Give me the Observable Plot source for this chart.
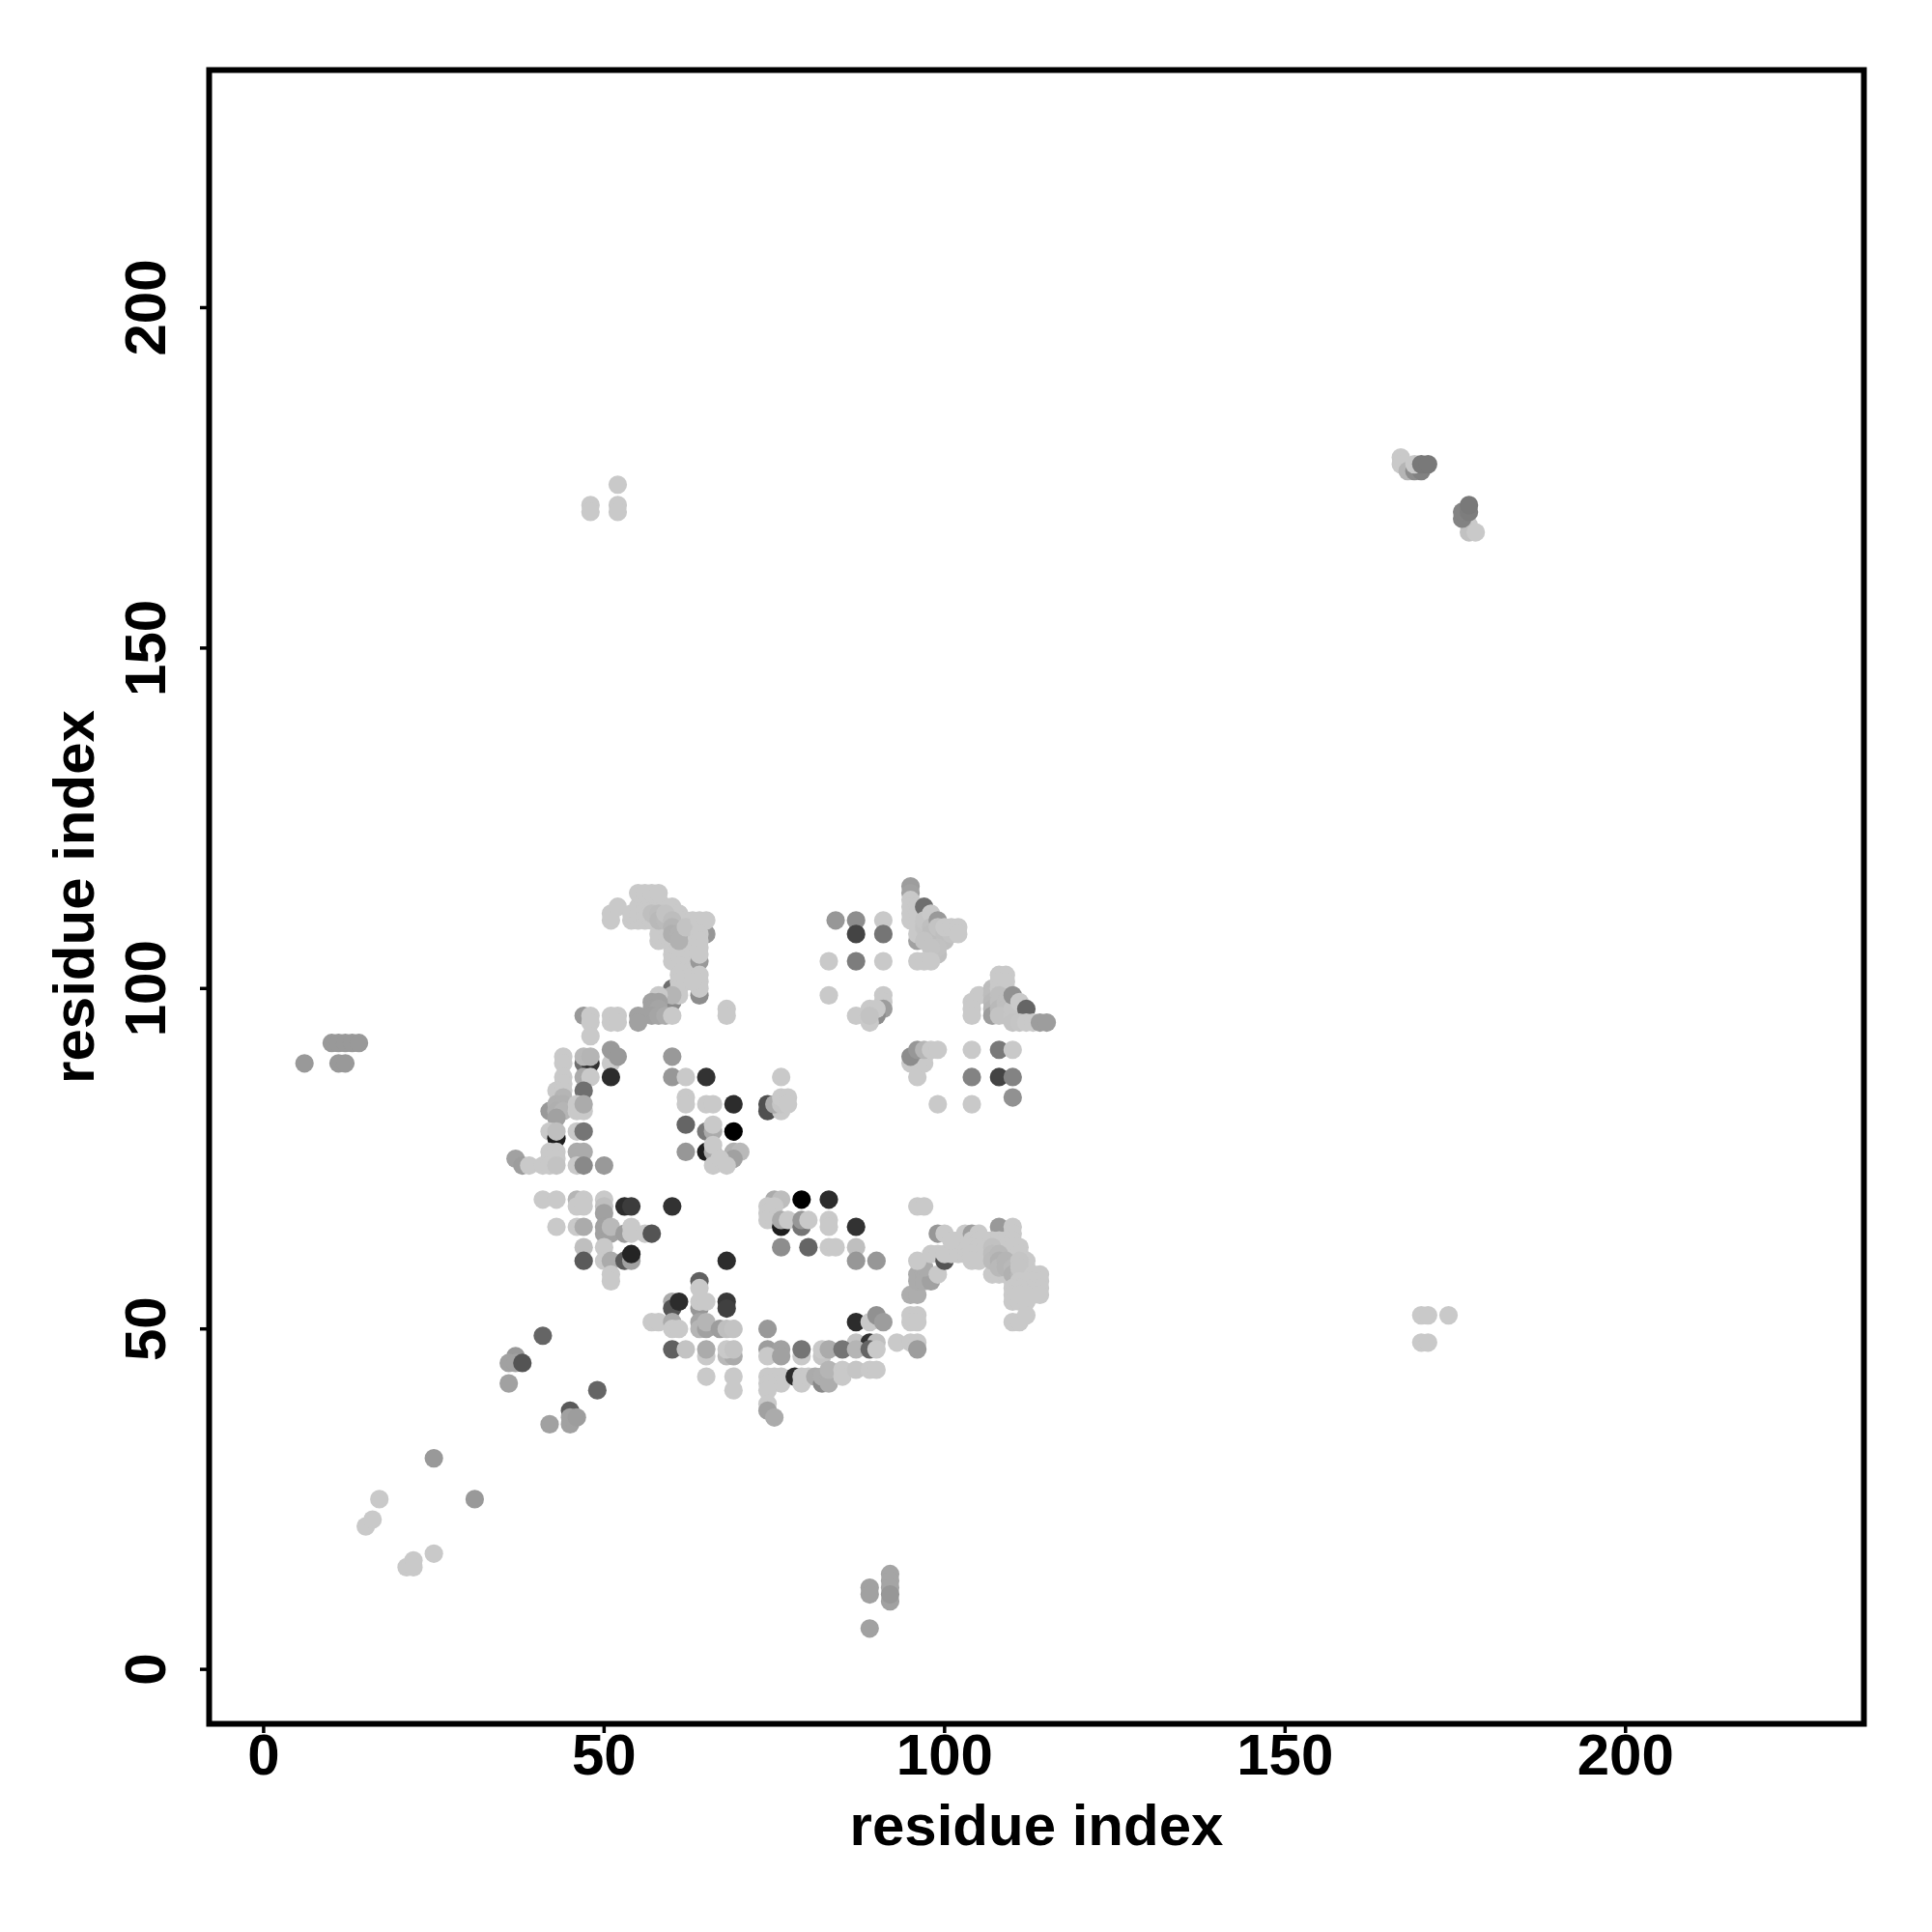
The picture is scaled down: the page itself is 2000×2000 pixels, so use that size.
<!DOCTYPE html>
<html>
<head>
<meta charset="utf-8">
<script src="https://cdn.jsdelivr.net/npm/d3@7"></script>
<script src="https://cdn.jsdelivr.net/npm/@observablehq/plot@0.6"></script>
<style>html,body{margin:0;padding:0;background:#fff}svg{display:block}</style>
</head>
<body>
<div id="chart"></div>
<script>
// each contact: [residue i, residue j, strength]
const farLeft = [[6,89,.24],[10,92,.24],[11,92,.24],[12,92,.24],[13,92,.24],[14,92,.24],[11,89,.24],[12,89,.24]];
const lowDiagonal = [[25,31,.24],[31,25,.24],[15,21,0],[16,22,0],[17,25,0],[21,15,0],[22,16,0],[22,15,0],[25,17,0],
  [37,46,.24],[36,45,.2],[37,45,.2],[38,45,.58],[36,42,.2],[41,49,.5],[49,41,.5],[45,38,.55],[45,36,.2],[45,37,.2],[46,37,.22],[42,36,.2]];
const bottomGroup = [[89,6,.2],[89,12,.2],[89,11,.2],[92,14,.18],[92,13,.18],[92,12,.18],[92,10,.2],[92,11,.25]];
const farTop = [[48,171,0],[48,170,0],[52,174,0],[52,171,0],[52,170,0],
  [170,52,0],[171,52,0],[174,52,0],[170,48,0],[171,48,0],
  [167,178,0],[167,177,0],[168,176,.1],[169,176,.3],[170,176,.36],[169,177,0],[170,177,.4],[171,177,.4],
  [177,168,0],[177,167,.04],[178,167,0],[176,169,.35],[176,170,.35],[177,170,.38],[177,171,.4]];
const upperArc = [[51,110,0],[51,111,0],[52,112,0],[54,110,0],[54,111,0],[55,110,0],[55,111,0],[55,112,0],[56,110,0],[56,111,0],[56,112,0],[56,113,0],[57,110,0],[57,112,0],[57,113,0],[58,112,0],[58,113,0],[59,112,0],
  [55,114,0],[56,114,0],[57,114,0],[58,114,0],[60,112,0],[61,111,0],[62,110,0],[58,107,0],[58,108,0],[59,108,0],[59,109,0],[60,107,0],[60,106,0],[60,105,0],[60,104,0],[61,103,0],[61,102,0],[62,102,0],[63,102,0],[62,103,0],[63,103,0],[62,104,0],[63,104,0],[61,105,0],[62,105,0],[63,105,0],[61,106,0],[62,106,0],[63,106,0],[62,107,0],[63,107,0],[62,108,0],[63,108,0],[63,109,0],[63,110,0],[64,109,0],[61,109,0],[61,110,0],
  [57,111,.05],[58,111,.06],[58,110,.08],[59,110,.07],[59,111,.03],[60,110,.06],[60,109,.1],[60,108,.13],[61,108,.12],[61,107,.12],[62,109,.03],
  [65,108,.25],[64,104,.24],[64,99,.3],[60,100,.45],[64,110,0],[65,110,0],[64,108,0],[64,107,0],[64,106,0],[64,105,0],[64,102,0],[64,101,0],[64,100,0],
  [60,98,.32],[61,101,0],[61,100,0],[62,101,0],[63,101,0],[61,99,0],[60,99,.1],[58,99,0],[57,98,.2],[58,98,.2],[57,97,.2],[58,97,.18],[57,96,.2],[58,96,.18],[59,96,.15],[60,96,0],[55,96,.2],[55,95,.2],
  [51,96,0],[51,95,0],[52,96,0],[52,95,0],[47,96,.24],[48,96,0],[48,95,0],[48,93,0],[68,97,0],[68,96,0]];
const leftStrand = [[47,89,.45],[48,89,.75],[51,89,0],[51,91,.24],[52,90,.24],[51,87,.78],[47,90,.08],[48,90,.1],[44,90,0],[44,89,0],[47,87,.15],[48,87,0],[44,87,0],[44,86,0],[43,85,0],[44,85,0],[47,85,.45],
  [42,82,.24],[44,84,.1],[43,83,.12],[44,83,.12],[43,82,.13],[44,82,.1],[43,81,.2],[46,83,0],[47,82,0],[46,82,0],[47,83,.15],[42,79,0],[43,78,.85],[43,79,.05],[46,79,0],[47,79,.42],
  [42,76,0],[43,76,0],[42,75,0],[43,75,0],[37,75,.2],[38,74,.22],[39,74,0],[41,74,0],[42,74,0],[43,74,.03],[46,76,.15],[47,76,.15],[46,74,0],[47,74,.32],[50,74,.24]];
const centreGrid = [[60,90,.24],[60,87,.25],[62,87,0],[65,87,.75],[76,87,0],[62,84,0],[62,83,0],[65,83,0],[66,83,0],[69,83,.78],[74,83,.6],[74,82,.6],[76,82,0],[75,83,.15],[76,83,.02],[76,84,0],[77,84,0],[77,83,0],
  [62,80,.5],[65,79,.4],[66,79,.15],[66,80,0],[69,79,1],[62,76,.25],[65,76,.85],[66,76,.15],[66,77,0],[69,76,.12],[70,76,.08],[69,75,.2],[66,74,0],[67,75,0],[68,74,0]];
const midLeft = [[41,69,0],[43,69,0],[46,69,.1],[47,69,0],[50,69,0],[46,68,0],[47,68,0],[50,68,.05],[50,67,.2],[53,68,.78],[54,68,.7],[60,68,.75],
  [43,65,0],[46,65,0],[47,65,.15],[50,65,.2],[50,64,.2],[51,64,.2],[51,65,.08],[53,64,.22],[54,64,0],[54,65,0],[56,64,0],[57,64,.58],
  [47,62,.05],[47,60,.55],[50,62,0],[50,60,0],[51,60,.15],[53,60,.55],[54,60,.2],[54,61,.82],[51,58,0],[51,57,0],[68,60,.78],
  [64,57,.52],[64,56,0],[60,54,.15],[60,53,.58],[61,54,.78],[64,53,.25],[64,54,0],[65,54,0],[68,54,.72],[68,53,.68],
  [57,51,0],[58,51,0],[60,51,.15],[60,50,0],[61,50,0],[64,51,.18],[64,50,.1],[65,50,.2],[65,51,.1],[67,50,.22],[68,50,.05],[69,50,.03],
  [60,47,.52],[62,47,.03],[65,46,0],[65,47,.15],[68,46,.08],[69,46,.15],[68,47,0],[69,47,.03],[65,43,0],[69,43,0],[69,41,0]];
const midRight = [[74,50,.24],[74,47,.22],[76,47,.2],[74,46,0],[76,46,.2],[74,43,0],[75,43,0],[76,43,0],[76,42,0],[74,42,0],[74,41,0],[74,39,0],[74,38,.2],[75,37,.15],
  [75,69,.15],[76,69,.06],[74,68,0],[75,68,0],[74,67,0],[74,66,0],[75,66,0],[76,65,.85],[76,66,.15],[77,66,0],[79,69,1],[83,69,.78],[79,65,.42],[79,66,.25],[80,66,0],[83,66,0],[83,65,0],[87,65,.75],
  [76,62,.3],[80,62,.5],[83,62,0],[84,62,0],[87,62,.05],[87,60,.25],[90,60,.25],[87,51,.78],[89,51,0],[90,52,.28],[91,51,.22],
  [87,48,.03],[89,48,.75],[90,48,.05],[93,48,0],[95,48,0],[96,48,0],[96,47,.22],[79,46,0],[79,47,.42],[82,46,.02],[82,47,0],[83,47,.15],[85,47,.42],[87,47,.1],[89,47,.5],[90,47,0],
  [78,43,.78],[79,43,0],[79,42,0],[80,43,0],[81,43,.15],[82,42,.32],[82,43,.14],[83,43,.14],[83,42,.14],[83,44,.1],[85,44,0],[85,43,0],[87,44,.02],[89,44,0],[90,44,0],[96,68,0],[97,68,0]];
const rightArc = [[95,55,.14],[96,55,.14],[95,52,0],[96,52,0],[95,51,0],[96,51,0],[96,58,.15],[96,57,.15],[97,58,.15],[97,57,.15],[98,57,.2],[97,59,.15],[96,60,0],[99,58,0],[99,64,.25],[100,64,0],[98,61,0],[99,61,0],[100,60,.58],[100,61,0],[101,61,0],[102,61,0],[103,61,0],[103,62,0],[103,63,0],[103,64,0],[102,63,0],[101,63,0],[104,64,.22],[105,64,0],[104,63,0],[105,63,0],[104,62,0],[105,62,0],[104,61,0],[105,61,0],[104,60,0],[105,60,0],
  [108,65,.24],[110,65,0],[110,64,0],[106,63,0],[107,63,0],[108,63,0],[109,63,0],[110,63,0],[109,62,0],[110,62,0],[111,62,0],[107,58,0],[108,58,0],[109,58,0],[110,57,0],[111,61,0],[112,60,0],[112,59,0],
  [107,62,.04],[107,61,.06],[107,60,.07],[108,61,.08],[108,60,.12],[108,59,.08],[109,60,.1],[109,59,.1],[110,59,.08],[110,58,.12],[111,58,.08],[111,60,.02],[111,59,.02],
  [113,58,0],[114,58,0],[113,57,0],[114,57,0],[113,56,0],[114,56,0],[113,55,0],[114,55,0],[112,57,0],[112,56,0],[111,57,0],[111,56,0],[110,56,0],[110,55,0],[111,55,0],[112,55,0],[110,54,0],[111,54,0],[112,54,0],[110,51,0],[111,51,0],[112,52,0]];
const upperRight = [[84,110,.25],[87,110,.3],[91,110,0],[87,108,.66],[91,108,.42],[83,104,0],[87,104,.38],[91,104,0],[83,99,0],[91,99,0],[91,98,0],[91,97,.22],[89,97,0],[90,96,.3],[90,97,0],[87,96,0],[89,95,0],[89,96,.03],
  [95,115,.22],[95,114,.2],[95,113,0],[95,112,0],[95,111,0],[95,110,0],[96,110,0],[96,112,0],[96,111,0],[97,112,.45],[96,107,.2],[96,108,0],[97,109,.03],[97,110,.02],[98,111,0],[98,109,.05],[98,108,.06],[99,108,.06],[99,110,.24],[99,109,.03],[100,107,.05],[100,108,.05],[101,108,.03],[100,109,0],[101,109,0],[102,109,0],[102,108,0],[99,105,.05],[99,106,.04],[97,107,.03],[98,106,.03],[96,104,0],[97,104,0],[98,104,0],
  [108,102,0],[109,102,0],[105,99,0],[104,98,0],[104,97,0],[104,96,0],[107,100,.06],[107,99,.06],[107,98,.08],[107,97,.1],[107,96,.22],[108,101,0],[108,100,0],[109,100,0],[109,101,0],[108,99,.05],[108,98,.05],[108,97,.08],[109,98,.05],[109,97,.05],[109,96,.03],[108,96,.03],[110,96,.02],[110,97,.02],[110,99,.28],[111,98,0],[112,97,.5],[110,95,.03],[111,95,.02],[112,95,0],[113,95,0],[114,95,.22],[115,95,.22],
  [95,89,0],[96,87,0],[97,89,0],[97,90,0],[95,90,.3],[96,91,.25],[97,91,.1],[98,91,0],[99,91,0],[99,83,0],[104,91,0],[108,91,.4],[110,91,0],[104,87,.35],[108,87,.66],[110,87,.35],[110,84,.28],[104,83,0]];

const contacts = [farLeft, lowDiagonal, bottomGroup, farTop, upperArc, leftStrand, centreGrid, midLeft, midRight, rightArc, upperRight]
  .flat().map(([i, j, strength]) => ({i, j, strength}));
const xTicks = [0, 50, 100, 150, 200];
const yTicks = [0, 50, 100, 150, 200];
const axisLabel = "residue index";

const chart = Plot.plot({
  width: 2000, height: 2000,
  marginLeft: 216, marginRight: 71, marginTop: 72, marginBottom: 216,
  style: {fontFamily: "'Liberation Sans', Arial, sans-serif", fontWeight: "bold", background: "#fff", color: "#000", overflow: "visible"},
  x: {domain: [-8, 235]},
  y: {domain: [-8, 234.9]},
  color: {type: "linear", domain: [0, 1], range: ["#c9c9c9", "#000000"]},
  marks: [
    Plot.dot(contacts, {x: "i", y: "j", r: 9.6, fill: "strength", stroke: "none"}),
    Plot.frame({stroke: "#000", strokeWidth: 6}),
    Plot.axisX({ticks: xTicks, tickSize: 10, tickPadding: 0, tickFormat: d3.format("d"), fontSize: 60, strokeWidth: 3.5, label: axisLabel, labelAnchor: "center", labelArrow: "none", labelOffset: 125}),
    Plot.axisY({ticks: yTicks, tickSize: 9, tickPadding: 37, tickRotate: -90, tickFormat: d3.format("d"), fontSize: 60, strokeWidth: 3.5, label: axisLabel, labelAnchor: "center", labelArrow: "none", labelOffset: 162})
  ]
});
document.getElementById("chart").appendChild(chart);
</script>
</body>
</html>
